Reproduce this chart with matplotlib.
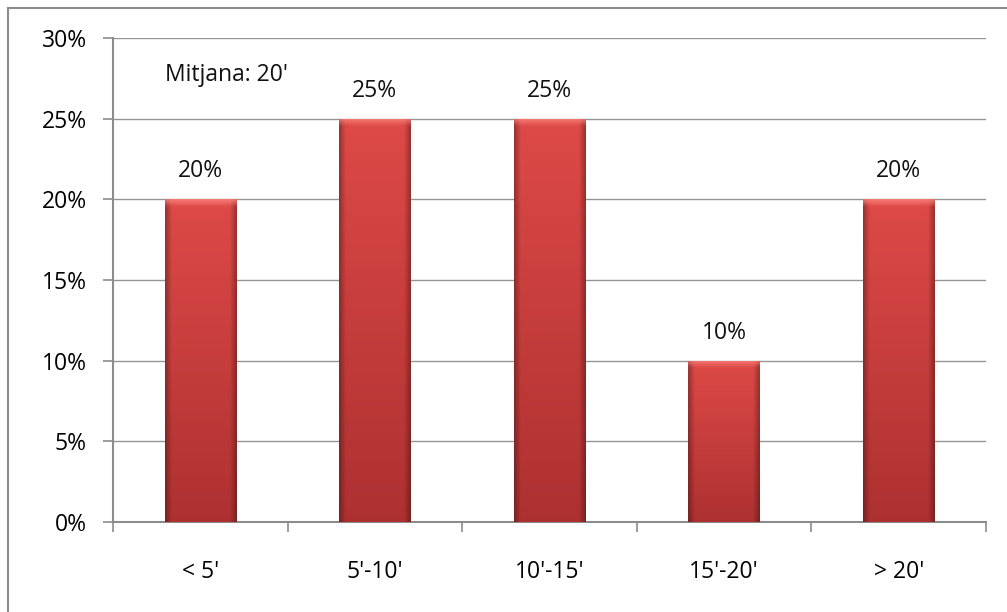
import numpy as np
import matplotlib
matplotlib.use('Agg')
import matplotlib.pyplot as plt
from matplotlib.lines import Line2D

categories = ["< 5'", "5'-10'", "10'-15'", "15'-20'", "> 20'"]
shares = [20, 25, 25, 10, 20]
y_ticks = [0, 5, 10, 15, 20, 25, 30]
note = "Mitjana: 20'"

plt.rcParams['font.family'] = ['Open Sans', 'DejaVu Sans']
FS = 16.5

W, H = 1007, 612
fig = plt.figure(figsize=(W / 100, H / 100), dpi=100)
ax = fig.add_axes([113 / W, 1 - 522 / H, 873 / W, 484 / H])

x = np.arange(len(categories))
bars = ax.bar(x, shares, width=0.41, color='#d84441', zorder=2)
ax.set_xlim(-0.5, len(categories) - 0.5)
ax.set_ylim(0, 30)

# shaded fill for each bar: darker toward the bottom and the sides, light bevel on top
px_per_unit = 484 / 30
for b, v in zip(bars, shares):
    h_px = v * px_per_unit
    ny, nx = 200, 60
    yy = np.linspace(1, 0, ny)[:, None]
    xx = np.linspace(0, 1, nx)[None, :]
    top = np.array([0.87, 0.29, 0.28])
    bot = np.array([0.68, 0.19, 0.19])
    base = bot + (top - bot) * yy[..., None]
    img = np.broadcast_to(base, (ny, nx, 3)).copy()
    edge = np.clip(1 - np.minimum(xx, 1 - xx) / 0.09, 0, 1)
    img *= (1 - 0.3 * edge[..., None])
    bevel = np.clip(1 - (1 - yy) * h_px / 7, 0, 1)
    img = img + (np.array([1.0, 0.55, 0.52]) - img) * (0.7 * bevel[..., None])
    img = np.clip(img, 0, 1)
    x0, w = b.get_x(), b.get_width()
    im = ax.imshow(img, extent=[x0, x0 + w, 0, v], aspect='auto',
                   interpolation='bilinear', zorder=3)
    im.set_clip_path(b)
    ax.annotate(f'{v}%', (x0 + w / 2, v), xytext=(0, 28), textcoords='offset pixels',
                ha='center', va='center', fontsize=FS, color='#111111', zorder=4)

ax.set_xlim(-0.5, len(categories) - 0.5)
ax.set_ylim(0, 30)
ax.set_yticks(y_ticks)
ax.set_yticklabels([f'{t}%' for t in y_ticks], fontsize=FS)
ax.yaxis.grid(True, color='#959595', linewidth=1.0, zorder=0)
ax.set_axisbelow(True)

ax.set_xticks(x)
ax.set_xticklabels(categories, fontsize=FS)
ax.tick_params(axis='x', length=0, pad=27)
ax.set_xticks(np.arange(len(categories) + 1) - 0.5, minor=True)
ax.tick_params(axis='x', which='minor', length=7, color='#8c8c8c', width=1.2)
ax.tick_params(axis='y', length=7, color='#8c8c8c', width=1.2, pad=12)

for s in ['top', 'right']:
    ax.spines[s].set_visible(False)
for s in ['left', 'bottom']:
    ax.spines[s].set_color('#8c8c8c')
    ax.spines[s].set_linewidth(1.5)

ax.text(52 / 873, 1 - 37 / 484, note, transform=ax.transAxes, fontsize=FS,
        ha='left', va='center', color='#111111')

# outer chart frame
fig.add_artist(Line2D([8 / W, 8 / W], [0, 1 - 8 / H], color='#8c8c8c', lw=1.5))
fig.add_artist(Line2D([8 / W, 1], [1 - 8 / H, 1 - 8 / H], color='#8c8c8c', lw=1.5))

fig.savefig('out.png', dpi=100, facecolor='white')
